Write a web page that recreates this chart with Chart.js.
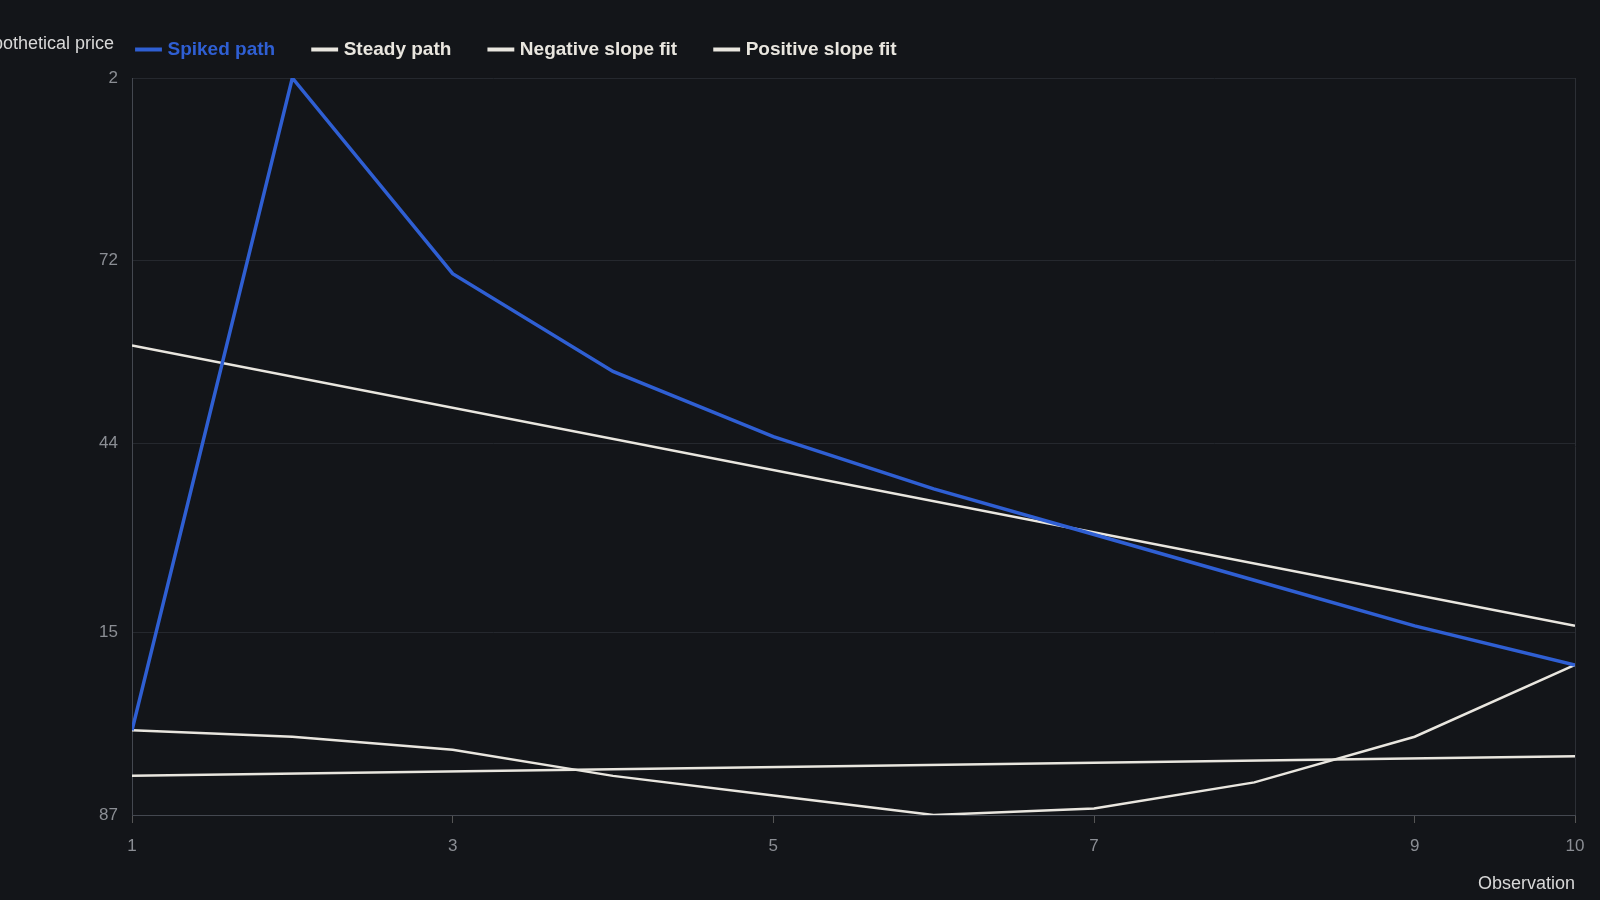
<!DOCTYPE html>
<html><head><meta charset="utf-8">
<script src="https://cdn.jsdelivr.net/npm/chart.js@4"></script>
<style>html,body{margin:0;background:#131519;}#wrap{width:1600px;height:900px;}</style>
</head><body><div id="wrap"><canvas id="c"></canvas></div>
<script>
const xValues = [1,2,3,4,5,6,7,8,9,10];
const spiked = [1.00,2.00,1.70,1.55,1.45,1.37,1.30,1.23,1.16,1.10];
const steady = [1.00,0.99,0.97,0.93,0.90,0.87,0.88,0.92,0.99,1.10];
const fitX = [1,10];
const negFit = [1.59,1.16];
const posFit = [0.93,0.96];
const yTicks = [0.87,1.15,1.44,1.72,2];
const yTickLabels = ['0.87','1.15','1.44','1.72','2'];
const xTicks = [1,3,5,7,9,10];
const white = '#e9e6df', blue = '#2f5fd3';
const pts = (xs, ys) => xs.map((x,i)=>({x, y: ys[i]}));
const yTitle = {id:'yTitle',
  beforeUpdate(ch){ if(ch.legend && !ch.legend._patched){const f=ch.legend.fit.bind(ch.legend); ch.legend.fit=function(){f(); this.height+=9;}; ch.legend._patched=true;} },
  afterDraw(ch){const c=ch.ctx;c.save();c.font='18px "Liberation Sans", Arial';c.fillStyle='#d8d8d8';c.textAlign='right';c.textBaseline='middle';c.fillText('Hypothetical price',114,44);c.restore();}};
new Chart(document.getElementById('c'), {
  type:'line',
  data:{datasets:[
    {label:'Spiked path', data:pts(xValues,spiked), borderColor:blue, backgroundColor:blue, borderWidth:3.5},
    {label:'Steady path', data:pts(xValues,steady), borderColor:white, backgroundColor:white, borderWidth:2.5},
    {label:'Negative slope fit', data:pts(fitX,negFit), borderColor:white, backgroundColor:white, borderWidth:2.5},
    {label:'Positive slope fit', data:pts(fitX,posFit), borderColor:white, backgroundColor:white, borderWidth:2.5}
  ]},
  options:{
    responsive:true, maintainAspectRatio:false, animation:false,
    layout:{padding:{left:99,right:25,top:0,bottom:1}},
    elements:{point:{radius:0}, line:{tension:0}},
    plugins:{
      legend:{align:'start', labels:{usePointStyle:true, pointStyle:'line', boxWidth:30, padding:40,
        font:{size:19, weight:'bold', family:'"Liberation Sans", Arial'},
        generateLabels(ch){return ch.data.datasets.map((d,i)=>({text:d.label, fillStyle:d.borderColor, strokeStyle:d.borderColor, lineWidth:4, pointStyle:'line', fontColor:i===0?blue:white, datasetIndex:i}));}}},
      tooltip:{enabled:false}
    },
    scales:{
      x:{type:'linear', min:1, max:10, afterBuildTicks(a){a.ticks=xTicks.map(v=>({value:v}));},
        ticks:{color:'#8b8e94', font:{size:17, family:'"Liberation Sans", Arial'}, padding:13},
        grid:{color:c=>c.tick && c.tick.value===10 ? '#2c2f35':'rgba(0,0,0,0)', tickColor:'#555', tickLength:8},
        border:{color:'#444850'},
        title:{display:true, text:'Observation', align:'end', color:'#d8d8d8', font:{size:18, family:'"Liberation Sans", Arial'}}},
      y:{min:0.87, max:2, afterBuildTicks(a){a.ticks=yTicks.map(v=>({value:v}));},
        afterFit(a){a.width=33;},
        ticks:{color:'#8b8e94', font:{size:17, family:'"Liberation Sans", Arial'}, padding:14,
          callback:(v)=>{const i=yTicks.indexOf(v);return i>=0?yTickLabels[i]:'';}},
        grid:{color:'#25282e', drawTicks:false},
        border:{color:'#444850'}}
    }
  },
  plugins:[yTitle]
});
</script></body></html>
